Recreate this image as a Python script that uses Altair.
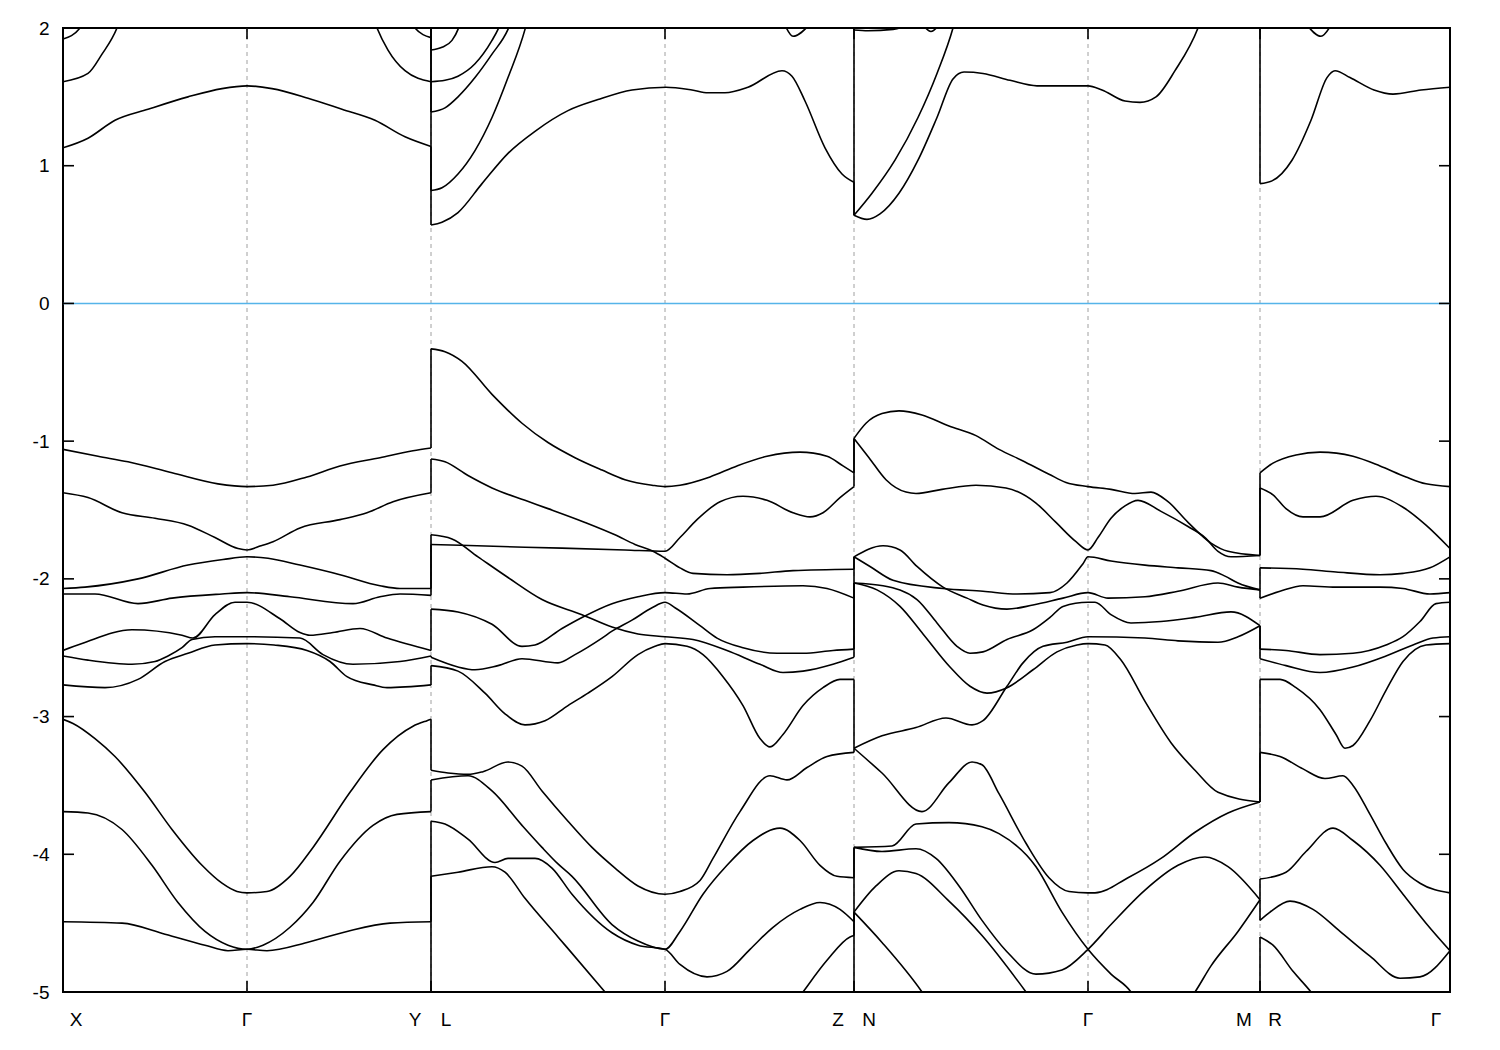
import altair as alt
import pandas as pd

# ---- high-symmetry path ----
sym_labels = ["X", "Γ", "Y", "L", "Γ", "Z", "N", "Γ", "M", "R", "Γ"]
sym_k = [0, 184, 368, 368, 602, 791, 791, 1025, 1197, 1197, 1387]
y_ticks = [-5, -4, -3, -2, -1, 0, 1, 2]
e_fermi = [0]

# ---- segment X - Γ - Y (valence) ----
xgy_v1 = [(0,-1.06),(35,-1.11),(65,-1.15),(109,-1.23),(155,-1.31),(184,-1.33),(210,-1.32),(244,-1.26),(277,-1.18),(317,-1.12),(350,-1.07),(368,-1.05)]
xgy_v2 = [(0,-1.375),(25,-1.41),(59,-1.52),(92,-1.56),(125,-1.61),(152,-1.70),(175,-1.78),(184,-1.79),(198,-1.76),(210,-1.73),(237,-1.63),(277,-1.57),(304,-1.52),(330,-1.44),(368,-1.375)]
xgy_v3 = [(0,-2.07),(22,-2.06),(75,-2.00),(125,-1.90),(160,-1.86),(184,-1.84),(205,-1.85),(237,-1.90),(277,-1.97),(317,-2.05),(337,-2.07),(368,-2.07)]
xgy_v4 = [(0,-2.11),(32,-2.11),(75,-2.18),(109,-2.14),(159,-2.11),(184,-2.10),(227,-2.13),(290,-2.18),(317,-2.13),(337,-2.11),(368,-2.12)]
xgy_v5 = [(0,-2.52),(19,-2.47),(69,-2.37),(119,-2.41),(130,-2.43),(152,-2.26),(172,-2.17),(184,-2.17),(217,-2.29),(237,-2.39),(247,-2.41),(270,-2.39),(297,-2.36),(324,-2.43),(368,-2.52)]
xgy_v6 = [(0,-2.56),(25,-2.59),(69,-2.62),(92,-2.60),(105,-2.56),(119,-2.50),(129,-2.44),(152,-2.42),(184,-2.42),(237,-2.43),(260,-2.55),(290,-2.62),(337,-2.60),(368,-2.56)]
xgy_v7 = [(0,-2.77),(42,-2.79),(75,-2.73),(102,-2.60),(125,-2.54),(152,-2.48),(184,-2.47),(211,-2.48),(244,-2.52),(267,-2.60),(284,-2.71),(310,-2.77),(324,-2.79),(368,-2.77)]
xgy_v8 = [(0,-3.02),(10,-3.05),(32,-3.16),(52,-3.29),(82,-3.55),(109,-3.82),(139,-4.08),(159,-4.21),(174,-4.27),(184,-4.28),(204,-4.27),(227,-4.16),(250,-3.95),(287,-3.55),(320,-3.24),(350,-3.07),(364,-3.03),(368,-3.02)]
xgy_v9 = [(0,-3.69),(25,-3.70),(59,-3.82),(89,-4.08),(115,-4.35),(142,-4.56),(165,-4.66),(184,-4.69),(200,-4.66),(227,-4.53),(250,-4.35),(277,-4.05),(310,-3.79),(334,-3.71),(368,-3.69)]
xgy_v10 = [(0,-4.49),(59,-4.50),(102,-4.58),(142,-4.66),(165,-4.70),(184,-4.69),(204,-4.70),(244,-4.64),(284,-4.56),(327,-4.50),(368,-4.49)]
# ---- segment X - Γ - Y (conduction) ----
xgy_c1 = [(0,1.13),(25,1.20),(52,1.33),(85,1.41),(125,1.50),(159,1.56),(184,1.58),(209,1.56),(245,1.49),(279,1.41),(312,1.33),(342,1.21),(368,1.14)]
xgy_c2a = [(0,1.61),(25,1.67),(39,1.81),(54,2.0),(60,2.12)]
xgy_c2b = [(308,2.12),(314,2.0),(325,1.84),(342,1.69),(368,1.61)]
xgy_c3a = [(0,1.92),(17,2.0),(22,2.06)]
xgy_c3b = [(347,2.06),(352,2.0),(368,1.93)]

# ---- segment L - Γ - Z (valence) ----
lgz_v1 = [(368,-0.33),(382,-0.35),(399,-0.42),(429,-0.66),(459,-0.87),(485,-1.01),(512,-1.12),(539,-1.21),(562,-1.28),(589,-1.32),(602,-1.33),(617,-1.32),(647,-1.26),(674,-1.18),(704,-1.11),(737,-1.08),(764,-1.11),(780,-1.18),(791,-1.23)]
lgz_v2 = [(368,-1.13),(382,-1.15),(405,-1.25),(429,-1.34),(462,-1.43),(485,-1.49),(522,-1.59),(552,-1.68),(572,-1.75),(590,-1.80),(602,-1.85),(617,-1.92),(630,-1.96),(664,-1.97),(697,-1.96),(730,-1.94),(791,-1.93)]
lgz_v3 = [(368,-1.75),(462,-1.77),(562,-1.79),(602,-1.80),(617,-1.70),(634,-1.57),(657,-1.44),(680,-1.40),(704,-1.43),(730,-1.52),(747,-1.55),(760,-1.52),(777,-1.41),(791,-1.33)]
lgz_v4 = [(368,-1.68),(389,-1.71),(415,-1.84),(445,-1.99),(479,-2.15),(519,-2.26),(549,-2.35),(575,-2.40),(602,-2.42),(630,-2.44),(664,-2.52),(697,-2.62),(720,-2.68),(740,-2.67),(770,-2.62),(791,-2.57)]
lgz_v5 = [(368,-2.22),(395,-2.24),(429,-2.33),(459,-2.49),(472,-2.48),(499,-2.36),(519,-2.28),(549,-2.18),(575,-2.13),(602,-2.10),(624,-2.11),(647,-2.07),(680,-2.06),(740,-2.05),(764,-2.07),(791,-2.14)]
lgz_v6 = [(368,-2.57),(395,-2.64),(412,-2.66),(435,-2.63),(459,-2.58),(495,-2.61),(512,-2.55),(539,-2.43),(549,-2.38),(569,-2.30),(589,-2.21),(602,-2.17),(612,-2.21),(637,-2.34),(654,-2.43),(680,-2.50),(714,-2.54),(740,-2.54),(770,-2.52),(791,-2.51)]
lgz_v7 = [(368,-2.63),(395,-2.67),(422,-2.83),(442,-2.98),(462,-3.06),(482,-3.03),(505,-2.92),(525,-2.83),(549,-2.71),(575,-2.55),(592,-2.49),(602,-2.47),(624,-2.49),(640,-2.55),(660,-2.71),(680,-2.92),(697,-3.16),(707,-3.22),(720,-3.13),(740,-2.92),(760,-2.79),(777,-2.73),(791,-2.73)]
lgz_v8 = [(368,-3.39),(385,-3.41),(405,-3.42),(420,-3.40),(445,-3.33),(459,-3.36),(479,-3.54),(505,-3.76),(529,-3.95),(552,-4.10),(575,-4.23),(602,-4.29),(617,-4.27),(637,-4.19),(650,-4.03),(677,-3.69),(707,-3.43),(724,-3.46),(744,-3.37),(764,-3.29),(791,-3.26)]
lgz_v9 = [(368,-3.46),(405,-3.43),(429,-3.54),(459,-3.79),(479,-3.95),(495,-4.07),(509,-4.16),(549,-4.51),(575,-4.63),(602,-4.69),(617,-4.56),(640,-4.29),(664,-4.08),(690,-3.90),(717,-3.81),(737,-3.90),(757,-4.08),(774,-4.16),(791,-4.17)]
lgz_v10 = [(368,-3.76),(382,-3.78),(405,-3.89),(432,-4.06),(445,-4.03),(472,-4.03),(489,-4.10),(509,-4.29),(549,-4.57),(575,-4.66),(602,-4.69),(617,-4.80),(644,-4.89),(664,-4.85),(687,-4.69),(710,-4.53),(737,-4.40),(757,-4.35),(777,-4.40),(791,-4.49)]
lgz_v11 = [(368,-4.16),(395,-4.13),(429,-4.09),(442,-4.13),(462,-4.32),(495,-4.60),(542,-5.0),(556,-5.12)]
lgz_v12 = [(728,-5.12),(740,-5.0),(764,-4.77),(787,-4.60),(791,-4.59)]
# ---- segment L - Γ - Z (conduction) ----
lgz_c1 = [(368,0.57),(379,0.59),(395,0.66),(419,0.87),(445,1.09),(472,1.25),(505,1.40),(535,1.48),(569,1.55),(603,1.57),(629,1.55),(645,1.53),(662,1.53),(685,1.57),(719,1.69),(729,1.65),(742,1.47),(762,1.13),(779,0.94),(791,0.88)]
lgz_c2 = [(368,0.82),(379,0.84),(395,0.94),(412,1.11),(429,1.35),(445,1.64),(462,1.99),(466,2.1)]
lgz_c3 = [(368,1.39),(382,1.42),(395,1.50),(412,1.64),(429,1.81),(445,1.99),(450,2.08)]
lgz_c4 = [(368,1.61),(382,1.62),(395,1.65),(412,1.74),(429,1.91),(435,1.99),(440,2.08)]
lgz_c5 = [(368,1.84),(379,1.86),(389,1.91),(395,1.99),(398,2.06)]
lgz_c6 = [(722,2.02),(730,1.94),(746,2.02)]

# ---- segment N - Γ - M (valence) ----
ngm_v1 = [(791,-0.98),(803,-0.87),(819,-0.80),(836,-0.78),(859,-0.81),(886,-0.89),(913,-0.96),(936,-1.06),(959,-1.14),(986,-1.24),(1003,-1.30),(1025,-1.33),(1048,-1.35),(1072,-1.38),(1088,-1.37),(1105,-1.44),(1125,-1.59),(1148,-1.74),(1165,-1.80),(1197,-1.83)]
ngm_v2 = [(791,-0.98),(806,-1.12),(823,-1.28),(843,-1.37),(853,-1.38),(879,-1.35),(913,-1.32),(943,-1.34),(973,-1.45),(993,-1.59),(1013,-1.73),(1025,-1.79),(1035,-1.70),(1048,-1.56),(1062,-1.47),(1075,-1.43),(1098,-1.51),(1125,-1.62),(1142,-1.70),(1155,-1.80),(1168,-1.84),(1197,-1.83)]
ngm_v3 = [(791,-1.84),(820,-1.76),(837,-1.79),(854,-1.91),(880,-2.06),(904,-2.14),(920,-2.19),(944,-2.22),(970,-2.19),(1000,-2.14),(1025,-2.10),(1045,-2.14),(1082,-2.13),(1115,-2.09),(1155,-2.03),(1175,-2.06),(1197,-2.08)]
ngm_v4 = [(791,-1.84),(807,-1.91),(830,-2.01),(880,-2.07),(920,-2.09),(954,-2.11),(987,-2.10),(1004,-2.03),(1020,-1.89),(1025,-1.84),(1048,-1.87),(1082,-1.90),(1115,-1.92),(1148,-1.94),(1162,-1.98),(1175,-2.03),(1197,-2.08)]
ngm_v5 = [(791,-2.03),(820,-2.05),(854,-2.15),(874,-2.32),(894,-2.49),(907,-2.54),(920,-2.53),(944,-2.44),(970,-2.37),(987,-2.28),(1000,-2.20),(1025,-2.17),(1032,-2.17),(1048,-2.26),(1068,-2.32),(1098,-2.31),(1132,-2.28),(1168,-2.24),(1197,-2.34)]
ngm_v6 = [(791,-2.03),(814,-2.08),(837,-2.20),(860,-2.40),(887,-2.64),(907,-2.78),(924,-2.83),(944,-2.79),(970,-2.66),(994,-2.53),(1014,-2.48),(1025,-2.47),(1042,-2.48),(1058,-2.59),(1082,-2.89),(1108,-3.19),(1132,-3.39),(1155,-3.55),(1197,-3.62)]
ngm_v7 = [(791,-3.23),(819,-3.14),(853,-3.08),(883,-3.01),(909,-3.06),(920,-3.03),(944,-2.78),(960,-2.61),(980,-2.49),(1004,-2.46),(1025,-2.42),(1082,-2.43),(1115,-2.45),(1155,-2.46),(1175,-2.42),(1197,-2.34)]
ngm_v8 = [(791,-3.23),(819,-3.41),(859,-3.69),(886,-3.48),(909,-3.33),(919,-3.35),(936,-3.56),(963,-3.92),(986,-4.17),(1006,-4.27),(1025,-4.28),(1032,-4.28),(1065,-4.17),(1098,-4.03),(1132,-3.84),(1165,-3.70),(1197,-3.62)]
ngm_v9 = [(791,-3.95),(829,-3.94),(853,-3.78),(886,-3.77),(919,-3.80),(936,-3.85),(973,-4.09),(999,-4.42),(1025,-4.69),(1048,-4.87),(1068,-5.0),(1078,-5.12)]
ngm_v10 = [(791,-3.95),(819,-3.98),(853,-3.96),(873,-4.03),(896,-4.23),(919,-4.48),(943,-4.70),(973,-4.87),(999,-4.84),(1025,-4.69),(1048,-4.51),(1082,-4.26),(1115,-4.08),(1142,-4.02),(1165,-4.09),(1197,-4.33)]
ngm_v11 = [(1120,-5.12),(1132,-5.0),(1148,-4.81),(1175,-4.56),(1197,-4.33)]
ngm_v12 = [(791,-4.42),(813,-4.23),(836,-4.12),(853,-4.14),(886,-4.34),(919,-4.59),(963,-5.0),(975,-5.12)]
ngm_v13 = [(791,-4.42),(819,-4.64),(859,-5.0),(870,-5.12)]
# ---- segment N - Γ - M (conduction) ----
ngm_c1 = [(791,0.64),(804,0.61),(817,0.65),(836,0.80),(855,1.04),(874,1.35),(890,1.63),(901,1.68),(920,1.67),(947,1.62),(974,1.58),(1025,1.58),(1039,1.55),(1062,1.47),(1077,1.46),(1093,1.50),(1112,1.69),(1135,2.0),(1140,2.1)]
ngm_c2 = [(791,0.64),(809,0.80),(832,1.04),(855,1.35),(874,1.67),(890,2.0),(893,2.08)]
ngm_c3 = [(791,1.985),(805,1.98),(830,1.99),(845,2.02)]
ngm_c4 = [(860,2.02),(868,1.975),(876,2.02)]

# ---- segment R - Γ (valence) ----
rg_v1 = [(1197,-1.23),(1210,-1.16),(1233,-1.10),(1257,-1.08),(1290,-1.11),(1317,-1.18),(1343,-1.26),(1363,-1.31),(1387,-1.33)]
rg_v2 = [(1197,-1.34),(1210,-1.39),(1223,-1.49),(1240,-1.55),(1257,-1.55),(1290,-1.43),(1313,-1.40),(1340,-1.48),(1363,-1.61),(1387,-1.78)]
rg_v3 = [(1197,-1.92),(1240,-1.93),(1273,-1.95),(1317,-1.97),(1340,-1.96),(1367,-1.92),(1387,-1.84)]
rg_v4 = [(1197,-2.14),(1217,-2.09),(1240,-2.05),(1273,-2.06),(1317,-2.06),(1340,-2.07),(1367,-2.11),(1387,-2.10)]
rg_v5 = [(1197,-2.51),(1223,-2.52),(1257,-2.55),(1290,-2.54),(1323,-2.48),(1340,-2.42),(1357,-2.31),(1373,-2.18),(1387,-2.17)]
rg_v6 = [(1197,-2.58),(1223,-2.63),(1257,-2.68),(1290,-2.64),(1323,-2.56),(1350,-2.48),(1370,-2.43),(1387,-2.42)]
rg_v7 = [(1197,-2.73),(1217,-2.73),(1233,-2.79),(1257,-2.95),(1273,-3.13),(1282,-3.23),(1290,-3.21),(1307,-3.03),(1323,-2.81),(1340,-2.60),(1363,-2.48),(1387,-2.47)]
rg_v8 = [(1197,-3.26),(1217,-3.29),(1240,-3.38),(1262,-3.45),(1280,-3.43),(1290,-3.50),(1307,-3.71),(1323,-3.92),(1340,-4.11),(1357,-4.21),(1387,-4.28)]
rg_v9 = [(1197,-4.18),(1223,-4.13),(1243,-3.98),(1270,-3.81),(1290,-3.90),(1317,-4.08),(1340,-4.29),(1363,-4.50),(1387,-4.70)]
rg_v10 = [(1197,-4.48),(1207,-4.42),(1227,-4.34),(1250,-4.40),(1277,-4.56),(1307,-4.74),(1337,-4.90),(1357,-4.89),(1387,-4.70)]
rg_v11 = [(1197,-4.60),(1210,-4.66),(1230,-4.85),(1248,-5.0),(1260,-5.12)]
# ---- segment R - Γ (conduction) ----
rg_c1 = [(1197,0.87),(1209,0.89),(1229,1.04),(1248,1.33),(1264,1.64),(1272,1.69),(1287,1.64),(1311,1.55),(1330,1.52),(1358,1.55),(1387,1.57)]
rg_c2 = [(1244,2.02),(1258,1.94),(1268,2.02)]

segments = [
    {"val": [xgy_v1, xgy_v2, xgy_v3, xgy_v4, xgy_v5, xgy_v6, xgy_v7, xgy_v8, xgy_v9, xgy_v10],
     "con": [xgy_c1, xgy_c2a, xgy_c2b, xgy_c3a, xgy_c3b]},
    {"val": [lgz_v1, lgz_v2, lgz_v3, lgz_v4, lgz_v5, lgz_v6, lgz_v7, lgz_v8, lgz_v9, lgz_v10, lgz_v11, lgz_v12],
     "con": [lgz_c1, lgz_c2, lgz_c3, lgz_c4, lgz_c5, lgz_c6]},
    {"val": [ngm_v1, ngm_v2, ngm_v3, ngm_v4, ngm_v5, ngm_v6, ngm_v7, ngm_v8, ngm_v9, ngm_v10, ngm_v11, ngm_v12, ngm_v13],
     "con": [ngm_c1, ngm_c2, ngm_c3, ngm_c4]},
    {"val": [rg_v1, rg_v2, rg_v3, rg_v4, rg_v5, rg_v6, rg_v7, rg_v8, rg_v9, rg_v10, rg_v11],
     "con": [rg_c1, rg_c2]},
]
boundaries = [368, 791, 1197]

# ---- build line table ----
rows = []
pid = 0
for seg in segments:
    for kind in ("val", "con"):
        for piece in seg[kind]:
            for i, (k, e) in enumerate(piece):
                rows.append({"piece": pid, "i": i, "k": k, "E": e})
            pid += 1
lines_df = pd.DataFrame(rows)

# ---- vertical joins at path discontinuities (band n on one side to band n on the other) ----
join_rows = []
for b, kb in enumerate(boundaries):
    for kind, pad, desc in (("val", -5.6, True), ("con", 2.6, False)):
        ends = sorted([p[-1][1] for p in segments[b][kind] if p[-1][0] == kb], reverse=desc)
        starts = sorted([p[0][1] for p in segments[b + 1][kind] if p[0][0] == kb], reverse=desc)
        n = max(len(ends), len(starts))
        ends += [pad] * (n - len(ends))
        starts += [pad] * (n - len(starts))
        for a, c in zip(ends, starts):
            join_rows.append({"k": kb, "E": min(a, c), "E2": max(a, c)})
joins_df = pd.DataFrame(join_rows)

# ---- guides ----
inner_k = sorted(set(sym_k[1:-1]))
grid_df = pd.DataFrame({"k": inner_k})
zero_df = pd.DataFrame({"E": e_fermi})
ytick_df = pd.DataFrame({"E": y_ticks})
xtick_df = pd.DataFrame({"k": inner_k})

lab_rows = []
last = len(sym_k) - 1
for idx, (lab, kk) in enumerate(zip(sym_labels, sym_k)):
    if idx == 0:
        dx = 13
    elif idx == last:
        dx = -14
    elif sym_k[idx + 1] == kk:
        dx = -16
    elif sym_k[idx - 1] == kk:
        dx = 15
    else:
        dx = 0
    lab_rows.append({"label": lab, "k": kk, "dx": dx})
lab_df = pd.DataFrame(lab_rows)

W, H = 1387, 964
TL = 11  # tick length in px
FONT = "Liberation Sans"
xs = alt.Scale(domain=[sym_k[0], sym_k[-1]], nice=False, zero=False)
ys = alt.Scale(domain=[y_ticks[0], y_ticks[-1]], nice=False, zero=False)
y_axis = alt.Axis(values=y_ticks, ticks=False, domain=False, grid=False,
                  labelPadding=14, labelFontSize=19, labelFont=FONT,
                  labelColor="black", labelExpr="'' + datum.value", title=None)

def X():
    return alt.X("k:Q", scale=xs, axis=None)

def Y():
    return alt.Y("E:Q", scale=ys, axis=y_axis)

grid = alt.Chart(grid_df).mark_rule(color="#a0a0a0", strokeWidth=1, strokeDash=[4, 4]).encode(x=X())

zero = alt.Chart(zero_df).mark_rule(color="#56b4e9", strokeWidth=1.6).encode(y=Y())

bands = alt.Chart(lines_df).mark_line(color="black", strokeWidth=1.6, interpolate="monotone", clip=True).encode(
    x=X(), y=Y(), detail="piece:N", order="i:Q")

joins = alt.Chart(joins_df).mark_rule(color="black", strokeWidth=1.6, clip=True).encode(
    x=X(), y=Y(), y2="E2:Q")

tick_style = dict(color="black", strokeWidth=1.6)
yt_left = alt.Chart(ytick_df).mark_rule(**tick_style).encode(
    y=Y(), x=alt.value(0), x2=alt.value(TL))
yt_right = alt.Chart(ytick_df).mark_rule(**tick_style).encode(
    y=Y(), x=alt.value(W - TL), x2=alt.value(W))
xt_bottom = alt.Chart(xtick_df).mark_rule(**tick_style).encode(
    x=X(), y=alt.value(H - TL), y2=alt.value(H))
xt_top = alt.Chart(xtick_df).mark_rule(**tick_style).encode(
    x=X(), y=alt.value(0), y2=alt.value(TL))

label_layers = []
for dx in sorted(lab_df["dx"].unique()):
    sub = lab_df[lab_df["dx"] == dx]
    label_layers.append(
        alt.Chart(sub).mark_text(dx=int(dx), font=FONT, fontSize=19, color="black", baseline="middle", align="center").encode(
            x=X(), y=alt.value(H + 28), text="label:N"))

chart = alt.layer(grid, zero, bands, joins, yt_left, yt_right, xt_bottom, xt_top, *label_layers).properties(
    width=W, height=H,
    autosize=alt.AutoSizeParams(type="none"),
    padding={"left": 55, "top": 20, "right": 40, "bottom": 50},
    background="white",
).configure_view(stroke="black", strokeWidth=2)

chart.save("out.html", embed_options={"renderer": "svg", "actions": False})
